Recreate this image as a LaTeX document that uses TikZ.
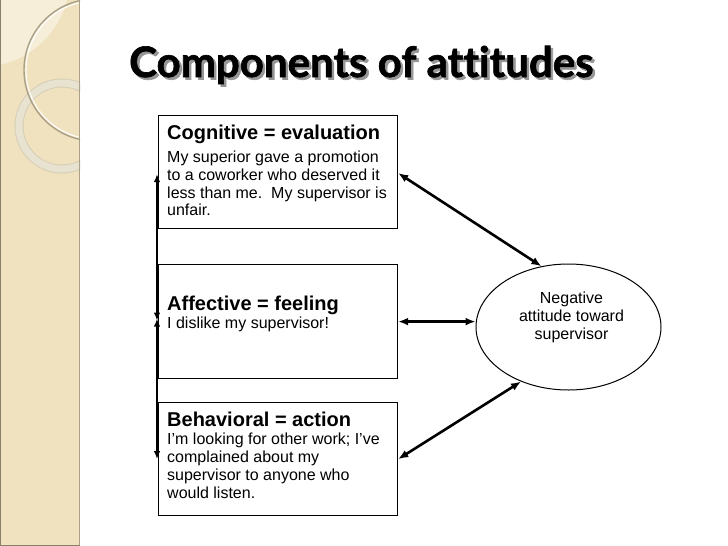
\documentclass[tikz,border=0pt]{standalone}
\usepackage{fontspec}
\setmainfont{Liberation Sans}
\newfontfamily\titlefont[Ligatures={NoCommon,NoRare,NoContextual},FakeBold=1.5]{Lato}
\usetikzlibrary{arrows.meta,shapes.geometric}
\definecolor{bandcol}{RGB}{240,226,190}
\definecolor{bandlight}{RGB}{246,238,216}
\definecolor{ringcol}{RGB}{232,226,208}
\definecolor{ringedge}{RGB}{214,206,182}
\definecolor{arccol}{RGB}{170,160,134}
\definecolor{bandedge}{RGB}{170,160,135}
\definecolor{shadowcol}{RGB}{150,150,150}
\tikzset{
  compbox/.style={draw, line width=1.2pt, minimum width=239pt, minimum height=113pt, inner sep=0pt, anchor=north west},
  headtext/.style={anchor=base west, inner sep=0pt, font=\bfseries\fontsize{20}{22}\selectfont},
  bodytext/.style={anchor=north west, inner sep=0pt, align=left, font=\fontsize{16}{17.8}\selectfont},
  linkarrow/.style={line width=2.6pt, {Latex[length=10pt,width=8pt]}-{Latex[length=10pt,width=8pt]}},
  sidearrow/.style={line width=2.6pt, {Latex[length=8pt,width=6.5pt]}-{Latex[length=8pt,width=6.5pt]}},
  titlestyle/.style={anchor=base west, inner sep=0pt, font=\titlefont\bfseries\fontsize{42}{50}\selectfont}
}
\begin{document}
\begin{tikzpicture}[x=1pt,y=-1pt]
\useasboundingbox (0,0) rectangle (728,546);
\fill[white] (0,0) rectangle (728,546);
% decorative band
\begin{scope}
  \clip (0,0) rectangle (80,546);
  \fill[bandcol] (0,0) rectangle (80,546);
  \fill[bandlight] (0,0) -- (0,65) .. controls (30,58) and (58,35) .. (67,0) -- cycle;
  \draw[line width=9pt, ringedge] (62,126) circle (43pt);
  \draw[line width=7pt, ringcol] (62,126) circle (43pt);
  \draw[line width=1.4pt, arccol] (95,70) circle (71pt);
  \draw[line width=1pt, white] (95,70) circle (69pt);
\end{scope}
\draw[bandedge, line width=1pt] (79.5,0) -- (79.5,546);
\draw[bandedge!80!black, line width=1pt] (0.5,0) -- (0.5,546);
\draw[bandedge!80!black, line width=1pt] (0,545.5) -- (80,545.5);
% title
\node[titlestyle, text=shadowcol] (titleshadow) at (131.5,79.5) {Components of attitudes};
\node[titlestyle, text=black] (title) at (129,77) {Components of attitudes};
% boxes
\node[compbox] (cog) at (158,115) {};
\node[compbox, minimum height=114pt] (aff) at (158,264) {};
\node[compbox] (beh) at (158,402) {};
% box texts
\node[headtext] (coghead) at (167,139.7) {Cognitive = evaluation};
\node[bodytext] (cogbody) at (167,150.3) {\rule{0pt}{12pt}My superior gave a promotion\\to a coworker who deserved it\\less than me.\ \ My supervisor is\\unfair.};
\node[headtext] (affhead) at (167,310.7) {Affective = feeling};
\node[bodytext] (affbody) at (167,316.3) {\rule{0pt}{12pt}I dislike my supervisor!};
\node[headtext] (behhead) at (167,426) {Behavioral = action};
\node[bodytext, font=\fontsize{16}{18}\selectfont] (behbody) at (167,432.3) {\rule{0pt}{12pt}I’m looking for other work; I’ve\\complained about my\\supervisor to anyone who\\would listen.};
% ellipse
\node[ellipse, draw, line width=1pt, minimum width=185pt, minimum height=126pt, inner sep=0pt] (ell) at (568.5,327) {};
\node[anchor=north, inner sep=0pt, align=center, font=\fontsize{16}{18}\selectfont] (elltext) at (571.5,291.3) {\rule{0pt}{12pt}Negative\\attitude toward\\supervisor};
% connectors
\draw[linkarrow] ([yshift=-1pt]cog.east) -- (ell.114);
\draw[linkarrow] (aff.east) -- (aff.east -| ell.west);
\draw[linkarrow] (beh.east) -- (ell.229);
\draw[sidearrow] ([xshift=-1pt,yshift=-2pt]cog.west) -- ([xshift=-1pt,yshift=1pt]aff.west);
\draw[sidearrow] ([xshift=-1pt,yshift=3pt]aff.west) -- ([xshift=-1pt]beh.west);
\end{tikzpicture}
\end{document}
